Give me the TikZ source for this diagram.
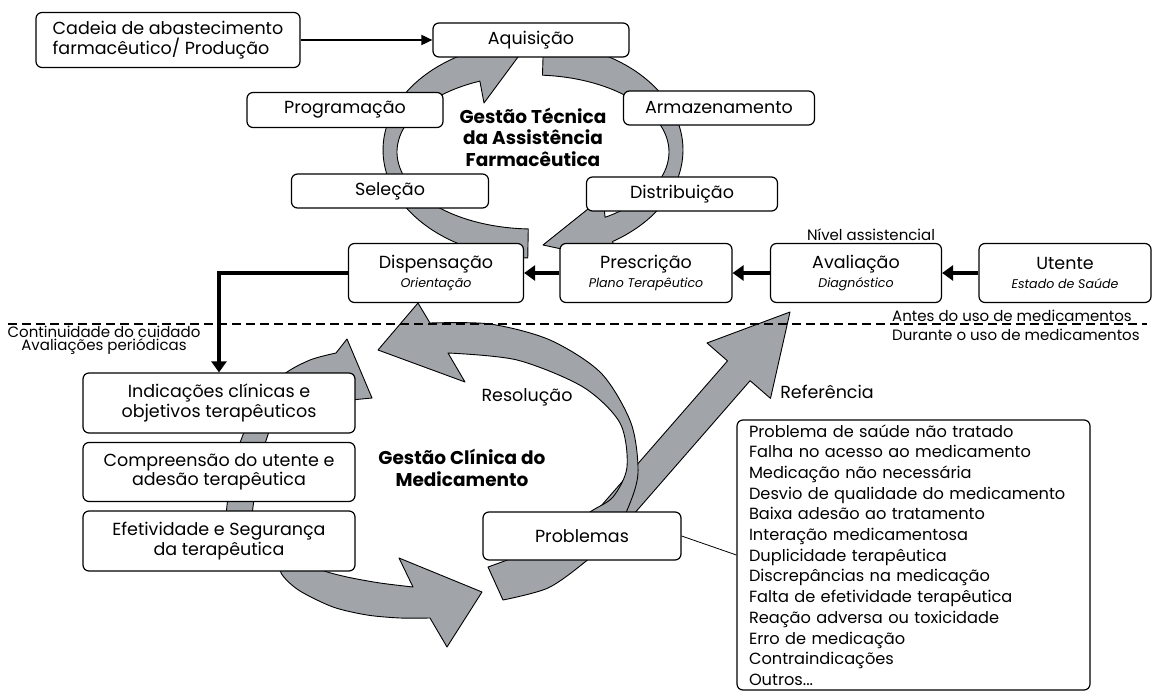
\documentclass[tikz,border=0pt]{standalone}
\usepackage{fontspec}
\setmainfont{Poppins}
\usetikzlibrary{arrows.meta,positioning,calc}
\definecolor{cyclegray}{RGB}{161,164,168}
\newcommand\fBox{\fontsize{17.5}{19.5}\selectfont}
\newcommand\fSub{\fontsize{12.6}{14}\selectfont\itshape}
\newcommand\fList{\fontsize{16.2}{20.7}\selectfont}
\newcommand\fNote{\fontsize{15}{13.5}\selectfont}
\newcommand\fHead{\fontsize{18.5}{21.5}\selectfont\bfseries}

\begin{document}
\begin{tikzpicture}[x=1pt, y=-1pt,
  %% ── Node styles ──────────────────────────────────────────────────────────
  box/.style={draw=black, line width=1.2pt, rounded corners=6pt, fill=white,
              align=center, inner sep=2pt, font=\fBox},
  heading/.style={font=\fHead, align=center, inner sep=0pt},
  plain/.style={font=\fBox, inner sep=0pt},
  remark/.style={font=\fNote, align=center, inner sep=0pt},
  %% ── Cycle shapes and arrows ──────────────────────────────────────────────
  cyc/.style={fill=cyclegray, draw=black, line width=0.9pt, line join=round},
  arr/.style={-{Triangle[length=11pt,width=10pt]}, line width=1.8pt},
  thickarr/.style={-{Triangle[length=11pt,width=15pt]}, line width=4pt},
  divider/.style={dash pattern=on 9pt off 5pt, line width=2.5pt}
]
\useasboundingbox (0,0) rectangle (1161,692);

%% ── Gray ring: Gestão Técnica (centre 533,150) ──────────────────────────────
\filldraw[cyc] plot[domain=92:247, samples=60] ({533+150*cos(\x)},{150+108*sin(\x)})
  -- (470,36) -- (518,57) -- (484,103)
  -- plot[domain=247:92, samples=60] ({533+136*cos(\x)},{152+77*sin(\x)}) -- cycle;
\filldraw[cyc] plot[domain=274:418, samples=60] ({533+150*cos(\x)},{150+108*sin(\x)})
  -- (622,262) -- (543,245) -- (603,197)
  -- plot[domain=418:274, samples=60] ({533+136*cos(\x)},{152+77*sin(\x)}) -- cycle;

%% ── Gray arrows: Gestão Clínica ─────────────────────────────────────────────
%% left arc, behind the three boxes
\filldraw[cyc] plot[smooth] coordinates {(226,515) (231,475) (241,440) (258,403) (283,375) (310,360) (336,353)}
  -- (347,339) -- (372,398) -- (300,405) -- (318,381)
  -- plot[smooth] coordinates {(318,381) (292,398) (272,425) (262,455) (256,485) (252,515)} -- cycle;
%% lower arc towards Problemas
\filldraw[cyc] plot[smooth] coordinates {(276,560) (283,576) (300,591) (333,607) (367,615) (400,618) (430,618)}
  -- (447,647) -- (482,592) -- (399,558) -- (413,587)
  -- plot[smooth] coordinates {(413,587) (380,583) (347,577) (322,570) (312,560)} -- cycle;
%% Referencia (straight)
\filldraw[cyc] (588.7,520.1) -- (727.5,360.9) -- (707,343) -- (790,312)
  -- (770.5,398.4) -- (750.1,380.7) -- (611.3,539.9) -- cycle;
%% Resolucao (big arc back to Dispensacao)
\filldraw[cyc] plot[smooth] coordinates {(503,600) (548,588) (585,562) (612,537) (628,508) (638,473) (631,423) (601,373) (550,340) (490,324) (430,323)}
  -- (418,303) -- (378,350) -- (465,382) -- (448,353)
  -- plot[smooth] coordinates {(448,353) (517,360) (583,387) (620,423) (627,467) (613,497) (590,512) (560,535) (525,553) (488,567)} -- cycle;

%% ── Divider: antes / durante ────────────────────────────────────────────────
\draw[divider] (8,324) -- (1147,324);

%% ── Gestão Técnica boxes ────────────────────────────────────────────────────
\node[box, minimum width=264pt, minimum height=55pt, align=left] (cadeia) at (168,40)
  {Cadeia de abastecimento\\farmacêutico/ Produção};
\node[box, minimum width=196pt, minimum height=34pt] (aquis) at (531,40) {Aquisição};
\node[box, minimum width=196pt, minimum height=35pt] (prog)  at (345,110) {Programação};
\node[box, minimum width=191pt, minimum height=34pt] (armaz) at (719,108) {Armazenamento};
\node[box, minimum width=197pt, minimum height=34pt] (selec) at (390,191) {Seleção};
\node[box, minimum width=191pt, minimum height=34pt] (distr) at (682,194) {Distribuição};
\node[heading] (gtec) at (533,137) {Gestão Técnica\\da Assistência\\Farmacêutica};

%% ── Nível assistencial row (y = 273) ────────────────────────────────────────
\node[box, minimum width=175pt, minimum height=59pt] (disp)   at (436,273) {Dispensação\\{\fSub Orientação}};
\node[box, minimum width=172pt, minimum height=59pt] (presc)  at (646,273) {Prescrição\\{\fSub Plano Terapêutico}};
\node[box, minimum width=171pt, minimum height=59pt] (aval)   at (856,273) {Avaliação\\{\fSub Diagnóstico}};
\node[box, minimum width=172pt, minimum height=59pt] (utente) at (1065,273) {Utente\\{\fSub Estado de Saúde}};
\node[remark] (nivel) at (871,235) {Nível assistencial};

%% ── Gestão Clínica boxes ────────────────────────────────────────────────────
\node[box, minimum width=272pt, minimum height=60pt] (indic) at (219,403) {Indicações clínicas e\\objetivos terapêuticos};
\node[box, minimum width=272pt, minimum height=59pt] (compr) at (219,472) {Compreensão do utente e\\adesão terapêutica};
\node[box, minimum width=272pt, minimum height=60pt] (efet)  at (219,541) {Efetividade e Segurança\\da terapêutica};
\node[box, minimum width=198pt, minimum height=48pt] (probl) at (582,536) {Problemas};
\node[box, minimum height=270pt, text width=329pt, inner xsep=12pt, align=left, font=\fList] (lista) at (913.5,555)
  {Problema de saúde não tratado\\Falha no acesso ao medicamento\\Medicação não necessária\\
   Desvio de qualidade do medicamento\\Baixa adesão ao tratamento\\Interação medicamentosa\\
   Duplicidade terapêutica\\Discrepâncias na medicação\\Falta de efetividade terapêutica\\
   Reação adversa ou toxicidade\\Erro de medicação\\Contraindicações\\Outros...};
\node[heading] (gclin) at (462,468) {Gestão Clínica do\\Medicamento};
\node[plain] (resol) at (527,397) {Resolução};
\node[plain] (refer) at (827,392) {Referência};

%% ── Side notes ──────────────────────────────────────────────────────────────
\node[remark] (contin) at (104,340) {Continuidade do cuidado\\Avaliações periódicas};
\node[remark, anchor=west] (antes)   at (892,316) {Antes do uso de medicamentos};
\node[remark, anchor=west] (durante) at (892,335) {Durante o uso de medicamentos};

%% ── Arrows ──────────────────────────────────────────────────────────────────
\draw[arr] (cadeia) -- (aquis);
\draw[thickarr] (utente) -- (aval);
\draw[thickarr] (aval) -- (presc);
\draw[thickarr] (presc) -- (disp);
\draw[thickarr] (disp.west) -| (indic.north);
\draw[line width=0.8pt] (probl.east) -- (lista.west);

\end{tikzpicture}
\end{document}
